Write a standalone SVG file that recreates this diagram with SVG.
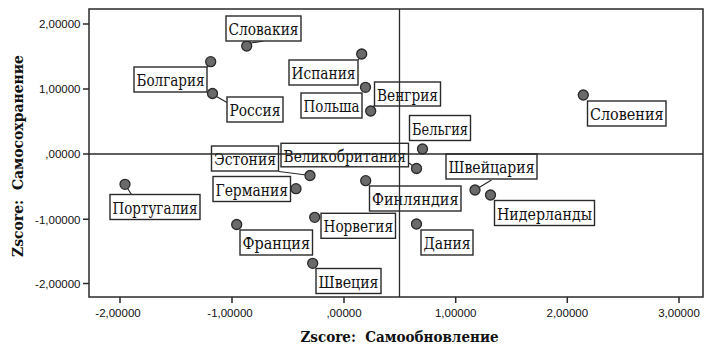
<svg xmlns="http://www.w3.org/2000/svg" width="705" height="344" viewBox="0 0 705 344">
<style>
.tick{font-family:"Liberation Sans",Arial,sans-serif;font-size:11.5px;fill:#111}
.title{font-family:"DejaVu Serif","Liberation Serif",serif;font-size:14px;font-weight:bold;fill:#111}
.lb rect{fill:#fff;stroke:#2a2a2a;stroke-width:1.4}
.lb text{font-family:"DejaVu Serif","Liberation Serif",serif;font-size:16px;fill:#111}
.lb circle{fill:#6a6a6a;stroke:#2a2a2a;stroke-width:1.3}
.ax{stroke:#2a2a2a;stroke-width:1.5;fill:none}
.ref{stroke:#2a2a2a;stroke-width:1.3}
#connectors line{stroke:#2a2a2a;stroke-width:1.2}
</style>
<rect width="705" height="344" fill="#fff"/>
<rect x="89" y="9" width="614" height="288" fill="#b8b8b8" class="ax"/>
<g id="axes">
<g class="ax">
<path d="M83 24H89M83 89H89M83 154H89M83 219.3H89M83 283.5H89"/>
<path d="M120 297V303M232 297V303M344 297V303M455.7 297V303M567.3 297V303M679 297V303"/>
</g>
<g class="tick" text-anchor="end">
<text x="80.5" y="28.3">2,00000</text>
<text x="80.5" y="93.3">1,00000</text>
<text x="80.5" y="158.3">,00000</text>
<text x="80.5" y="223.6">-1,00000</text>
<text x="80.5" y="287.8">-2,00000</text>
</g>
<g class="tick" text-anchor="middle">
<text x="118" y="316.5">-2,00000</text>
<text x="230" y="316.5">-1,00000</text>
<text x="344" y="316.5">,00000</text>
<text x="455.7" y="316.5">1,00000</text>
<text x="567.3" y="316.5">2,00000</text>
<text x="679" y="316.5">3,00000</text>
</g>
<text class="title" x="300.5" y="341.5" textLength="198" lengthAdjust="spacingAndGlyphs">Zscore:&#160; Самообновление</text>
<text class="title" transform="translate(22.5,257) rotate(-90)" textLength="202" lengthAdjust="spacingAndGlyphs">Zscore:&#160; Самосохранение</text>
</g>
<g id="connectors">
<line x1="251" y1="43" x2="263.5" y2="41"/>
<line x1="210.7" y1="61.7" x2="207" y2="67"/>
<line x1="216.5" y1="96.5" x2="227" y2="102.5"/>
<line x1="361.7" y1="54" x2="358.3" y2="60"/>
<line x1="370.7" y1="111" x2="374.5" y2="105"/>
<line x1="409" y1="163" x2="416.5" y2="168.5"/>
<line x1="279" y1="171.5" x2="310" y2="175.5"/>
<line x1="475" y1="190" x2="491.5" y2="180"/>
<line x1="125" y1="184.3" x2="131.5" y2="194.5"/>
</g>
<g id="n-slovakia" class="lb"><circle cx="246.7" cy="46" r="5"/><rect x="226" y="16" width="75" height="25"/><text x="228.5" y="35" textLength="70" lengthAdjust="spacingAndGlyphs">Словакия</text></g>
<g id="n-bulgaria" class="lb"><circle cx="210.7" cy="61.7" r="5"/><rect x="134" y="67" width="73" height="25"/><text x="136.5" y="86" textLength="68" lengthAdjust="spacingAndGlyphs">Болгария</text></g>
<g id="n-russia" class="lb"><circle cx="212.5" cy="93.5" r="5"/><rect x="227" y="97" width="56" height="25"/><text x="229.5" y="116" textLength="51" lengthAdjust="spacingAndGlyphs">Россия</text></g>
<g id="n-spain" class="lb"><circle cx="361.7" cy="54" r="5"/><rect x="289" y="60" width="69" height="25"/><text x="291.5" y="79" textLength="64" lengthAdjust="spacingAndGlyphs">Испания</text></g>
<g id="n-hungary" class="lb"><circle cx="370.7" cy="111" r="5"/><rect x="374.5" y="82" width="66" height="24"/><text x="377" y="100.5" textLength="61" lengthAdjust="spacingAndGlyphs">Венгрия</text></g>
<g id="n-poland" class="lb"><circle cx="365.5" cy="87.3" r="5"/><rect x="301" y="93" width="61" height="25"/><text x="303.5" y="112" textLength="56" lengthAdjust="spacingAndGlyphs">Польша</text></g>
<g id="n-belgium" class="lb"><circle cx="422.5" cy="149" r="5"/><rect x="409.5" y="115.5" width="61" height="25"/><text x="412" y="134.5" textLength="56" lengthAdjust="spacingAndGlyphs">Бельгия</text></g>
<g id="n-uk" class="lb"><circle cx="416.5" cy="168.5" r="5"/><rect x="281" y="143.3" width="127.5" height="23.5"/><text x="283.5" y="161.5" textLength="122.5" lengthAdjust="spacingAndGlyphs">Великобритания</text></g>
<g id="n-estonia" class="lb"><circle cx="310" cy="175.5" r="5"/><rect x="211.5" y="146" width="67" height="25"/><text x="214" y="165" textLength="62" lengthAdjust="spacingAndGlyphs">Эстония</text></g>
<g id="n-slovenia" class="lb"><circle cx="583.3" cy="95" r="5"/><rect x="587.5" y="101" width="78.5" height="25"/><text x="590" y="120" textLength="73.5" lengthAdjust="spacingAndGlyphs">Словения</text></g>
<g id="n-switzerland" class="lb"><circle cx="475" cy="190" r="5"/><rect x="446" y="154" width="91" height="25"/><text x="448.5" y="173" textLength="86" lengthAdjust="spacingAndGlyphs">Швейцария</text></g>
<g id="n-netherlands" class="lb"><circle cx="490.5" cy="195" r="5"/><rect x="494.5" y="200.5" width="100" height="25"/><text x="497" y="219.5" textLength="95" lengthAdjust="spacingAndGlyphs">Нидерланды</text></g>
<g id="n-finland" class="lb"><circle cx="365.7" cy="180.7" r="5"/><rect x="369.5" y="186" width="91.5" height="25"/><text x="372" y="205" textLength="86.5" lengthAdjust="spacingAndGlyphs">Финляндия</text></g>
<g id="n-denmark" class="lb"><circle cx="416.5" cy="224" r="5"/><rect x="421" y="230" width="52" height="25"/><text x="423.5" y="249" textLength="47" lengthAdjust="spacingAndGlyphs">Дания</text></g>
<g id="n-germany" class="lb"><circle cx="296" cy="188.7" r="5"/><rect x="213" y="176.5" width="77.5" height="25"/><text x="215.5" y="195.5" textLength="72.5" lengthAdjust="spacingAndGlyphs">Германия</text></g>
<g id="n-norway" class="lb"><circle cx="314.7" cy="217.3" r="5"/><rect x="321" y="213.3" width="74.5" height="25"/><text x="323.5" y="232.3" textLength="69.5" lengthAdjust="spacingAndGlyphs">Норвегия</text></g>
<g id="n-france" class="lb"><circle cx="236.7" cy="224.5" r="5"/><rect x="240" y="230" width="72.5" height="25"/><text x="242.5" y="249" textLength="67.5" lengthAdjust="spacingAndGlyphs">Франция</text></g>
<g id="n-sweden" class="lb"><circle cx="312.7" cy="263.3" r="5"/><rect x="316" y="268.5" width="65" height="25"/><text x="318.5" y="287.5" textLength="60" lengthAdjust="spacingAndGlyphs">Швеция</text></g>
<g id="n-portugal" class="lb"><circle cx="125" cy="184.3" r="5"/><rect x="110" y="194.5" width="90" height="25"/><text x="112.5" y="213.5" textLength="85" lengthAdjust="spacingAndGlyphs">Португалия</text></g>
<g id="reflines">
<line class="ref" x1="399.5" y1="9" x2="399.5" y2="297"/>
<line class="ref" x1="89" y1="154" x2="703" y2="154"/>
</g>
</svg>
